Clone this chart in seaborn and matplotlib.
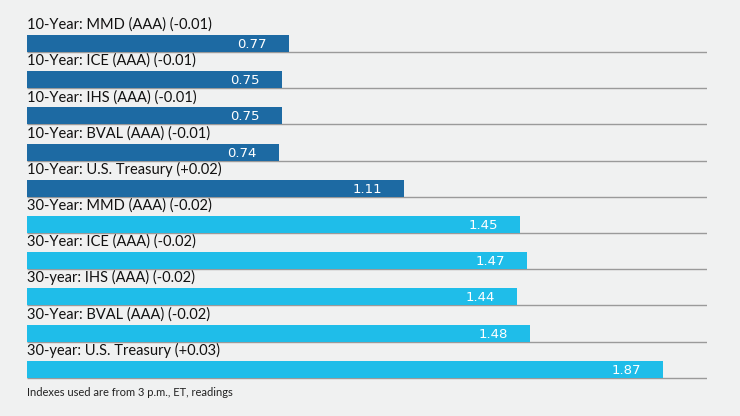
import numpy as np
import pandas as pd
import matplotlib
matplotlib.use("Agg")
import matplotlib.pyplot as plt
import matplotlib.transforms as mtransforms
import seaborn as sns

# values
labels = [
    "10-Year: MMD (AAA) (-0.01)",
    "10-Year: ICE (AAA) (-0.01)",
    "10-Year: IHS (AAA) (-0.01)",
    "10-Year: BVAL (AAA) (-0.01)",
    "10-Year: U.S. Treasury (+0.02)",
    "30-Year: MMD (AAA) (-0.02)",
    "30-Year: ICE (AAA) (-0.02)",
    "30-year: IHS (AAA) (-0.02)",
    "30-Year: BVAL (AAA) (-0.02)",
    "30-year: U.S. Treasury (+0.03)",
]
yields = [0.77, 0.75, 0.75, 0.74, 1.11, 1.45, 1.47, 1.44, 1.48, 1.87]
term = ["10-Year"] * 5 + ["30-Year"] * 5
footnote = "Indexes used are from 3 p.m., ET, readings"

df = pd.DataFrame({"label": labels, "yield": yields, "term": term})

bg = "#f0f1f1"
sns.set_theme(style="white", rc={"axes.facecolor": bg, "figure.facecolor": bg})
plt.rcParams["font.family"] = ["Lato", "DejaVu Sans"]

fig = plt.figure(figsize=(7.4, 4.16), dpi=100)
ax = fig.add_axes([27 / 740, 1 - 387.4 / 416, 680 / 740, 362 / 416])

sns.barplot(data=df, x="yield", y="label", hue="term", orient="h",
            palette={"10-Year": "#1d6aa3", "30-Year": "#1fbde9"},
            width=0.47, dodge=False, legend=False, saturation=1,
            linewidth=0, ax=ax)

ax.set_xlim(0, 2.0)
ax.set_ylim(len(labels) - 0.5, -0.5)
ax.set_xlabel("")
ax.set_ylabel("")
ax.set_xticks([])
ax.set_yticks([])
sns.despine(ax=ax, left=True, bottom=True)

# baseline under each bar, row title above, value inside the bar end
shift_left = mtransforms.offset_copy(ax.transData, fig=fig, x=-22, y=-1, units="dots")
shift_up = mtransforms.offset_copy(ax.transData, fig=fig, x=0, y=3, units="dots")
for p in ax.patches:
    y0 = p.get_y()
    h = p.get_height()
    row = int(round(y0 + h / 2))
    ax.plot([0, 2.0], [y0 + h, y0 + h], color="#9a9a9a", lw=1, zorder=0,
            solid_capstyle="butt")
    ax.text(0, y0, labels[row], ha="left", va="bottom", fontsize=10.5,
            color="#111111", transform=shift_up)
    ax.text(p.get_width(), y0 + h / 2, f"{p.get_width():.2f}",
            ha="right", va="center", fontsize=9.5, color="white",
            family=["DejaVu Sans"], transform=shift_left)

fig.text(27 / 740, 1 - 392 / 416, footnote, ha="left", va="center",
         fontsize=8, color="#222222")

fig.savefig("out.png", dpi=100, facecolor=bg)
